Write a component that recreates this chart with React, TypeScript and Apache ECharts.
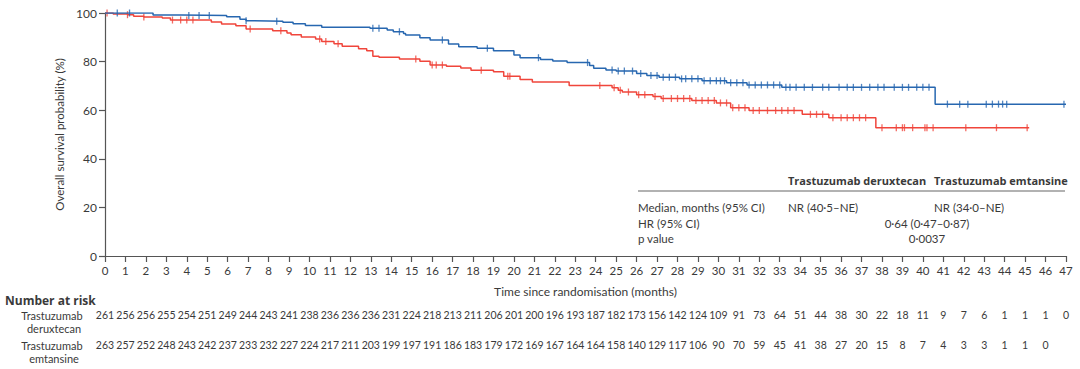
import React, { useEffect, useRef } from "react";
import * as echarts from "echarts";

// Kaplan–Meier step data (time in months, survival %)
const derTimes = [0, 2.35, 3.75, 5.95, 6.6, 6.9, 7.3, 8.7, 9.2, 9.8, 10.6, 12.96, 13.8, 14.1, 14.6, 14.7, 15.4, 15.9, 16.8, 17.3, 18.2, 19.0, 20.0, 20.3, 21.3, 21.9, 22.6, 23.7, 23.9, 24.5, 25.0, 26.0, 26.5, 27.1, 28.1, 29.2, 30.4, 31.4, 33.1, 40.6, 47.0];
const derSurv = [100, 99.2, 99.0, 98.5, 97.4, 96.8, 96.6, 96.2, 95.6, 94.9, 94.1, 93.7, 93.0, 92.3, 91.6, 90.9, 89.8, 88.9, 87.2, 86.1, 85.5, 84.5, 82.7, 81.6, 80.9, 80.2, 79.6, 78.4, 77.3, 76.5, 76.1, 75.1, 74.3, 73.6, 72.9, 72.1, 71.3, 70.4, 69.4, 62.5, 62.5];

const emtTimes = [0, 0.4, 1.1, 1.4, 1.9, 2.8, 3.2, 5.2, 5.7, 6.4, 6.9, 8.2, 8.9, 9.1, 9.6, 10.3, 10.6, 11.2, 11.6, 12.4, 12.8, 13.1, 13.4, 14.4, 15.4, 15.9, 16.7, 17.4, 17.9, 19.0, 19.5, 20.3, 20.9, 22.7, 24.8, 25.1, 25.3, 26.0, 26.8, 27.2, 28.7, 29.9, 30.6, 31.5, 34.1, 35.4, 37.7, 45.2];
const emtSurv = [100, 99.6, 99.3, 98.7, 98.4, 97.9, 97.1, 96.3, 95.5, 94.8, 93.4, 92.7, 91.8, 91.1, 90.1, 89.3, 88.3, 87.3, 86.3, 85.3, 84.5, 82.2, 81.8, 81.1, 80.1, 78.6, 78.1, 77.4, 76.4, 75.8, 74.0, 72.6, 71.6, 70.2, 69.2, 68.2, 67.5, 66.4, 65.6, 64.8, 64.0, 63.0, 61.0, 59.9, 58.3, 56.9, 52.8, 52.8];

// Censoring times
const derCensor = [0.6, 1.2, 4.1, 4.6, 5.1, 6.9, 8.4, 13.1, 13.4, 14.4, 16.5, 18.7, 21.2, 23.6, 24.8, 25.1, 25.4, 25.8, 26.2, 26.7, 27.0, 27.3, 27.6, 27.9, 28.2, 28.4, 28.7, 29.0, 29.3, 29.6, 29.9, 30.1, 30.3, 30.6, 30.9, 31.2, 31.5, 31.8, 32.1, 32.4, 32.7, 33.0, 33.3, 33.5, 33.8, 34.2, 34.6, 35.1, 35.4, 35.9, 36.3, 36.6, 37.0, 37.4, 37.8, 38.1, 38.6, 39.0, 39.3, 39.7, 40.0, 40.3, 41.2, 41.8, 42.2, 43.1, 43.4, 43.7, 43.9, 44.1, 46.9];
const emtCensor = [0.1, 1.1, 1.9, 3.3, 3.7, 4.0, 4.3, 7.1, 8.6, 10.5, 10.8, 11.4, 15.2, 16.0, 16.2, 16.5, 18.4, 19.7, 19.8, 24.2, 24.9, 25.2, 25.6, 26.1, 26.4, 26.9, 27.3, 27.7, 28.0, 28.3, 28.6, 28.9, 29.2, 29.5, 29.8, 30.1, 30.4, 30.7, 31.0, 31.3, 31.7, 32.0, 32.4, 32.8, 33.1, 33.4, 33.7, 34.5, 34.8, 35.1, 35.6, 36.0, 36.3, 36.6, 36.9, 37.2, 38.0, 38.7, 39.0, 39.1, 39.5, 40.1, 40.2, 40.5, 42.1, 43.6, 45.1];

// Number at risk (months 0..47)
const derRisk = [261, 256, 256, 255, 254, 251, 249, 244, 243, 241, 238, 236, 236, 236, 231, 224, 218, 213, 211, 206, 201, 200, 196, 193, 187, 182, 173, 156, 142, 124, 109, 91, 73, 64, 51, 44, 38, 30, 22, 18, 11, 9, 7, 6, 1, 1, 1, 0];
const emtRisk = [263, 257, 252, 248, 243, 242, 237, 233, 232, 227, 224, 217, 211, 203, 199, 197, 191, 186, 183, 179, 172, 169, 167, 164, 164, 158, 140, 129, 117, 106, 90, 70, 59, 45, 41, 38, 27, 20, 15, 8, 7, 4, 3, 3, 1, 1, 0];

const armNames = ["Trastuzumab deruxtecan", "Trastuzumab emtansine"];
const tableRows = ["Median, months (95% CI)", "HR (95% CI)", "p value"];
const medianText = ["NR (40·5–NE)", "NR (34·0–NE)"];
const hrText = "0·64 (0·47–0·87)";
const pText = "0·0037";

const BLUE = "#2767b0";
const RED = "#f0453b";
const AXIS = "#555555";
const TEXT = "#3a3a3a";
const FONT = "Lato, 'Open Sans', sans-serif";
const BOLD_FONT = "'Open Sans', Lato, sans-serif";

function survAt(times: number[], surv: number[], t: number) {
  let s = surv[0];
  for (let i = 0; i < times.length; i++) {
    if (times[i] <= t) s = surv[i];
  }
  return s;
}

function buildOption(): echarts.EChartsCoreOption {
  const left = 105;
  const right = 14;
  const riskAxis = (gridIndex: number, values: number[]) => ({
    type: "value",
    gridIndex,
    min: 0,
    max: 47,
    interval: 1,
    axisLine: { show: false },
    axisTick: { show: false },
    splitLine: { show: false },
    axisLabel: {
      margin: 8,
      fontSize: 10.5,
      fontFamily: FONT,
      color: TEXT,
      formatter: (v: number) => (values[Math.round(v)] !== undefined ? String(values[Math.round(v)]) : ""),
    },
  });
  const hiddenY = (gridIndex: number) => ({
    type: "value",
    gridIndex,
    show: false,
  });
  const text = (x: number, y: number, t: string, opts: any = {}) => ({
    type: "text",
    x,
    y,
    silent: true,
    style: {
      text: t,
      x: 0,
      y: 0,
      fill: TEXT,
      fontFamily: opts.fontFamily ?? FONT,
      fontSize: opts.fontSize ?? 11.5,
      fontWeight: opts.fontWeight ?? "normal",
      textAlign: opts.align ?? "left",
      textVerticalAlign: "middle",
      align: opts.align ?? "left",
      verticalAlign: "middle",
    },
  });
  return {
    animation: false,
    backgroundColor: "#ffffff",
    grid: [
      { left, right, top: 13, height: 243 },
      { left, right, top: 300, height: 1 },
      { left, right, top: 330, height: 1 },
    ],
    xAxis: [
      {
        type: "value",
        gridIndex: 0,
        min: 0,
        max: 47,
        interval: 1,
        name: "Time since randomisation (months)",
        nameLocation: "middle",
        nameGap: 29,
        nameTextStyle: { fontSize: 12, fontFamily: FONT, color: TEXT },
        axisLine: { show: true, lineStyle: { color: AXIS, width: 1.2 } },
        axisTick: { show: true, length: 6, lineStyle: { color: AXIS, width: 1.2 } },
        splitLine: { show: false },
        axisLabel: { margin: 8, fontSize: 11.5, fontFamily: FONT, color: TEXT },
      },
      riskAxis(1, derRisk),
      riskAxis(2, emtRisk),
    ],
    yAxis: [
      {
        type: "value",
        gridIndex: 0,
        min: 0,
        max: 100,
        interval: 20,
        name: "Overall survival probability (%)",
        nameLocation: "middle",
        nameGap: 38,
        nameRotate: 90,
        nameTextStyle: { fontSize: 11.5, fontFamily: FONT, color: TEXT },
        axisLine: { show: true, lineStyle: { color: AXIS, width: 1.2 } },
        axisTick: { show: true, length: 6, lineStyle: { color: AXIS, width: 1.2 } },
        splitLine: { show: false },
        axisLabel: { margin: 8, fontSize: 12, fontFamily: FONT, color: TEXT },
      },
      hiddenY(1),
      hiddenY(2),
    ],
    series: [
      {
        type: "line",
        name: armNames[1],
        step: "end",
        showSymbol: false,
        data: emtTimes.map((t, i) => [t, emtSurv[i]]),
        lineStyle: { color: RED, width: 1.5 },
        itemStyle: { color: RED },
        z: 3,
      },
      {
        type: "line",
        name: armNames[0],
        step: "end",
        showSymbol: false,
        data: derTimes.map((t, i) => [t, derSurv[i]]),
        lineStyle: { color: BLUE, width: 1.5 },
        itemStyle: { color: BLUE },
        z: 4,
      },
      {
        type: "scatter",
        symbol: "rect",
        symbolSize: [1.3, 7],
        data: emtCensor.map((t) => [t, survAt(emtTimes, emtSurv, t)]),
        itemStyle: { color: RED },
        z: 3,
      },
      {
        type: "scatter",
        symbol: "rect",
        symbolSize: [1.3, 7],
        data: derCensor.map((t) => [t, survAt(derTimes, derSurv, t)]),
        itemStyle: { color: BLUE },
        z: 4,
      },
    ],
    graphic: [
      { type: "line", silent: true, shape: { x1: 638, y1: 191, x2: 1065, y2: 191 }, style: { stroke: "#666", lineWidth: 1.2 } },
      text(788, 180, armNames[0], { fontWeight: "bold", fontSize: 11, fontFamily: BOLD_FONT }),
      text(934, 180, armNames[1], { fontWeight: "bold", fontSize: 11, fontFamily: BOLD_FONT }),
      text(638, 207, tableRows[0]),
      text(638, 223, tableRows[1]),
      text(638, 238, tableRows[2]),
      text(788, 207, medianText[0]),
      text(934, 207, medianText[1]),
      text(927, 223, hrText, { align: "center" }),
      text(927, 238, pText, { align: "center" }),
      text(5, 300, "Number at risk", { fontWeight: "bold", fontSize: 12, fontFamily: BOLD_FONT }),
      text(52, 315, "Trastuzumab", { align: "center", fontSize: 11 }),
      text(54, 328, "deruxtecan", { align: "center", fontSize: 11 }),
      text(52, 345, "Trastuzumab", { align: "center", fontSize: 11 }),
      text(54, 358, "emtansine", { align: "center", fontSize: 11 }),
    ],
  };
}

export default function App() {
  const ref = useRef<HTMLDivElement>(null);
  useEffect(() => {
    if (!ref.current) return;
    const chart = echarts.init(ref.current, null, { renderer: "svg" });
    chart.setOption(buildOption());
    return () => chart.dispose();
  }, []);
  return (
    <div
      ref={ref}
      style={{ position: "absolute", left: 0, top: 0, width: 1080, height: 369, background: "#fff" }}
    />
  );
}
